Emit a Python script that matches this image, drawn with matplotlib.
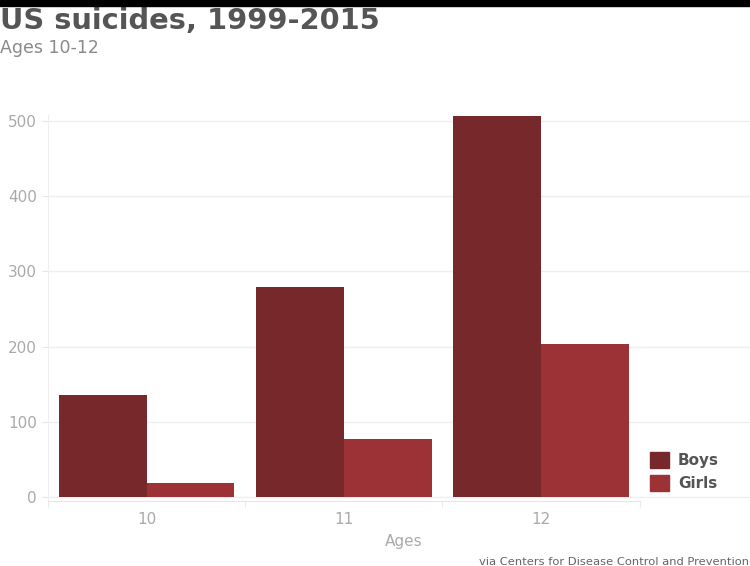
import numpy as np
import matplotlib
matplotlib.use('Agg')
from matplotlib import pyplot as plt
from matplotlib.patches import Patch, Rectangle

ages = ["10", "11", "12"]
boys = [136, 279, 507]
girls = [19, 77, 203]
series_labels = ["Boys", "Girls"]
yticks = [0, 100, 200, 300, 400, 500]

boy_color = "#76282a"
girl_color = "#9c3236"

fig = plt.figure(figsize=(7.5, 5.66), dpi=100)
fig.patches.append(Rectangle((0, 0.989), 1, 0.011, transform=fig.transFigure,
                             color="black", zorder=10))

ax = fig.add_axes([0.064, 0.1152, 0.936, 0.7109])
x = np.arange(len(ages))
w = 0.445
ax.bar(x - w / 2, boys, width=w, color=boy_color, zorder=3)
ax.bar(x + w / 2, girls, width=w, color=girl_color, zorder=3)

ax.set_xlim(-0.5, 3.06)
ax.set_ylim(-5, 530)
ax.set_yticks(yticks)
ax.set_xticks(x)
ax.set_xticklabels(ages)
ax.set_xticks([-0.5, 0.5, 1.5, 2.5], minor=True)
ax.tick_params(axis="x", which="major", length=0, colors="#aaaaaa", labelsize=11, pad=8)
ax.tick_params(axis="x", which="minor", length=4, color="#e6e6e6")
ax.tick_params(axis="y", length=4, color="#e6e6e6", colors="#aaaaaa", labelsize=11, pad=4)
ax.grid(axis="y", color="#efefef", lw=1, zorder=0)

for s in ["top", "right"]:
    ax.spines[s].set_visible(False)
ax.spines["left"].set_color("#eeeeee")
ax.spines["left"].set_bounds(-5, 508)
ax.spines["bottom"].set_color("#e6e6e6")
ax.spines["bottom"].set_bounds(-0.5, 2.5)

ax.set_xlabel("Ages", color="#aaaaaa", fontsize=11, labelpad=4)
ax.xaxis.set_label_coords(0.507, -0.083)

handles = [Patch(color=boy_color), Patch(color=girl_color)]
leg = ax.legend(handles, series_labels, loc="lower left", bbox_to_anchor=(0.8385, -0.01),
                frameon=False, handlelength=1.2, handleheight=1.2, handletextpad=0.6,
                labelspacing=0.45, prop={"weight": "bold", "size": 11})
for t in leg.get_texts():
    t.set_color("#555555")

fig.text(0.0, 0.948, "US suicides, 1999-2015", fontsize=20.8, fontweight="bold",
         color="#555555", ha="left", va="baseline")
fig.text(0.0, 0.906, "Ages 10-12", fontsize=12.5, color="#8a8a8a", ha="left", va="baseline")
fig.text(0.999, -0.002, "via Centers for Disease Control and Prevention", fontsize=8.25,
         color="#666666", ha="right", va="bottom")

plt.savefig("out.png", dpi=100)
